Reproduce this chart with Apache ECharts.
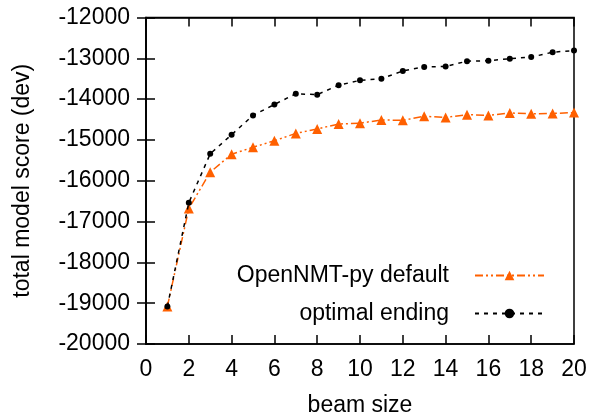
<!DOCTYPE html>
<html>
<head>
<meta charset="utf-8">
<script src="https://cdn.jsdelivr.net/npm/echarts@6/dist/echarts.min.js"></script>
<style>html,body{margin:0;padding:0;background:#fff}#c{width:591px;height:414px}</style>
</head>
<body>
<div id="c"></div>
<script>
var beamSizes = [1,2,3,4,5,6,7,8,9,10,11,12,13,14,15,16,17,18,19,20];
var openNMTDefault = [-19080,-16680,-15790,-15350,-15180,-15020,-14840,-14730,-14610,-14590,-14510,-14520,-14420,-14450,-14380,-14400,-14340,-14360,-14350,-14330];
var optimalEnding = [-19080,-16540,-15340,-14870,-14400,-14130,-13870,-13890,-13660,-13540,-13500,-13310,-13210,-13200,-13070,-13060,-13010,-12970,-12850,-12810];
var xTicks = [0,20,2];
var yTicks = [-20000,-12000,1000];

function pairs(xs, ys){ return xs.map(function(x,i){ return [x, ys[i]]; }); }

var font = 'Liberation Sans, Arial, Helvetica, sans-serif';
var fs = 23;
var chart = echarts.init(document.getElementById('c'), null, {renderer:'canvas'});
var tickStyle = {show:true, inside:true, length:9, lineStyle:{color:'#000', width:1.5}};
chart.setOption({
  animation:false,
  grid:{left:146, right:17, top:17.5, bottom:70, containLabel:false, outerBoundsMode:'none', show:true, borderColor:'#000', borderWidth:1.5, backgroundColor:'transparent'},
  xAxis:[{
    type:'value', min:xTicks[0], max:xTicks[1], interval:xTicks[2],
    name:'beam size', nameLocation:'middle', nameGap:50,
    nameTextStyle:{fontSize:fs, fontFamily:font, color:'#000'},
    axisLine:{show:true, lineStyle:{color:'#000', width:1.5}},
    axisTick:tickStyle,
    axisLabel:{fontSize:fs, fontFamily:font, color:'#000', margin:14},
    splitLine:{show:false}
  },{
    type:'value', position:'top', min:xTicks[0], max:xTicks[1], interval:xTicks[2],
    axisLine:{show:true, lineStyle:{color:'#000', width:1.5}},
    axisTick:tickStyle, axisLabel:{show:false}, splitLine:{show:false}
  }],
  yAxis:[{
    type:'value', min:yTicks[0], max:yTicks[1], interval:yTicks[2],
    name:'total model score (dev)', nameLocation:'middle', nameGap:112,
    nameTextStyle:{fontSize:fs, fontFamily:font, color:'#000'},
    axisLine:{show:true, lineStyle:{color:'#000', width:1.5}},
    axisTick:tickStyle,
    axisLabel:{fontSize:fs, fontFamily:font, color:'#000', margin:16, formatter:function(v){return String(v);}},
    splitLine:{show:false}
  },{
    type:'value', position:'right', min:yTicks[0], max:yTicks[1], interval:yTicks[2],
    axisLine:{show:true, lineStyle:{color:'#000', width:1.5}},
    axisTick:tickStyle, axisLabel:{show:false}, splitLine:{show:false}
  }],
  legend:{
    orient:'vertical', right:41, top:259, align:'right',
    itemWidth:69, itemHeight:12, itemGap:15,
    textStyle:{fontSize:fs, fontFamily:font, color:'#000', padding:[0,21,0,0]},
    data:['OpenNMT-py default','optimal ending']
  },
  series:[{
    name:'OpenNMT-py default', type:'line', data:pairs(beamSizes, openNMTDefault),
    symbol:'triangle', symbolSize:10, z:2,
    itemStyle:{color:'#ff6000'},
    lineStyle:{color:'#ff6000', width:1.5, type:[8,3,2,3,2,3]}
  },{
    name:'optimal ending', type:'line', data:pairs(beamSizes, optimalEnding),
    symbol:'circle', symbolSize:6, z:3,
    itemStyle:{color:'#000'},
    lineStyle:{color:'#000', width:1.5, type:[4,5]}
  }]
});
</script>
</body>
</html>
